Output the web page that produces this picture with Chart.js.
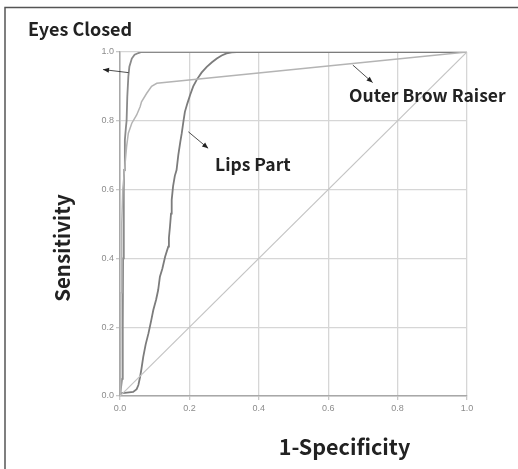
<!DOCTYPE html>
<html><head><meta charset="utf-8">
<script src="https://cdn.jsdelivr.net/npm/chart.js@4/dist/chart.umd.min.js"></script>
<style>html,body{margin:0;padding:0;background:#fff}</style>
</head><body>
<canvas id="c" width="518" height="469" style="display:block;width:518px;height:469px"></canvas>
<script>
// ---- data ----
const tickValues = [0, 0.2, 0.4, 0.6, 0.8, 1.0];
const tickLabels = ['0.0', '0.2', '0.4', '0.6', '0.8', '1.0'];

const eyesClosedX = [0, 0.006, 0.008, 0.009, 0.011, 0.012, 0.014, 0.017, 0.019, 0.021, 0.024, 0.027, 0.034, 0.042, 0.053, 0.062, 1];
const eyesClosedY = [0, 0.05, 0.2, 0.4, 0.6, 0.657, 0.744, 0.78, 0.80, 0.87, 0.928, 0.957, 0.981, 0.992, 0.997, 1.0, 1.0];

const browRaiserX = [0, 0.002, 0.003, 0.005, 0.008, 0.014, 0.019, 0.024, 0.034, 0.048, 0.058, 0.062, 0.077, 0.091, 0.106, 1];
const browRaiserY = [0, 0.05, 0.3, 0.5, 0.6, 0.667, 0.725, 0.764, 0.793, 0.817, 0.841, 0.855, 0.88, 0.90, 0.909, 1.0];

const lipsPartX = [0, 0.002, 0.02, 0.038, 0.048, 0.053, 0.058, 0.062, 0.067, 0.074, 0.082, 0.09, 0.096, 0.104, 0.11, 0.115, 0.122, 0.13, 0.139, 0.141, 0.144, 0.147, 0.149, 0.153, 0.158, 0.163, 0.168, 0.174, 0.178, 0.183, 0.187, 0.194, 0.202, 0.211, 0.221, 0.235, 0.25, 0.265, 0.279, 0.293, 0.307, 0.322, 0.336, 1];
const lipsPartY = [0, 0.008, 0.01, 0.012, 0.02, 0.032, 0.056, 0.08, 0.114, 0.15, 0.182, 0.22, 0.25, 0.28, 0.308, 0.347, 0.37, 0.405, 0.434, 0.46, 0.492, 0.53, 0.57, 0.61, 0.64, 0.657, 0.70, 0.74, 0.764, 0.80, 0.826, 0.85, 0.875, 0.90, 0.919, 0.94, 0.957, 0.97, 0.981, 0.99, 0.996, 0.999, 1.0, 1.0];

const refLineX = [0, 1];
const refLineY = [0, 1];

const seriesNames = ['Eyes Closed', 'Lips Part', 'Outer Brow Raiser'];
const axisTitleX = '1-Specificity';
const axisTitleY = 'Sensitivity';

const pts = (xs, ys) => xs.map((x, i) => ({x, y: ys[i]}));

const BOLD = '"Noto Sans CJK JP", "Noto Sans", sans-serif';

function arrow(ctx, x1, y1, x2, y2) {
  ctx.save();
  ctx.strokeStyle = '#222'; ctx.fillStyle = '#222'; ctx.lineWidth = 0.8;
  ctx.beginPath(); ctx.moveTo(x1, y1); ctx.lineTo(x2, y2); ctx.stroke();
  const a = Math.atan2(y2 - y1, x2 - x1), L = 6, W = 2.5;
  ctx.beginPath();
  ctx.moveTo(x2, y2);
  ctx.lineTo(x2 - L * Math.cos(a) + W * Math.sin(a), y2 - L * Math.sin(a) - W * Math.cos(a));
  ctx.lineTo(x2 - L * Math.cos(a) - W * Math.sin(a), y2 - L * Math.sin(a) + W * Math.cos(a));
  ctx.closePath(); ctx.fill();
  ctx.restore();
}

const decor = {
  id: 'decor',
  beforeDraw(chart) {
    const ctx = chart.ctx;
    ctx.save();
    ctx.fillStyle = '#fff'; ctx.fillRect(0, 0, chart.width, chart.height);
    ctx.strokeStyle = '#555'; ctx.lineWidth = 1.5;
    ctx.beginPath(); ctx.moveTo(5, chart.height); ctx.lineTo(5, 7.5); ctx.lineTo(chart.width, 7.5); ctx.stroke();
    ctx.restore();
  },
  afterDraw(chart) {
    const ctx = chart.ctx, xs = chart.scales.x, ys = chart.scales.y, ca = chart.chartArea;
    const P = (x, y) => [xs.getPixelForValue(x), ys.getPixelForValue(y)];
    ctx.save();
    ctx.fillStyle = '#222';
    ctx.textBaseline = 'middle';
    // heading
    ctx.font = 'bold 18px ' + BOLD; ctx.textAlign = 'left';
    ctx.fillText(seriesNames[0], 28, 29);
    // annotations
    ctx.font = 'bold 17.5px ' + BOLD;
    let [tx, ty] = P(0.274, 0.672); ctx.fillText(seriesNames[1], tx, ty);
    [tx, ty] = P(0.66, 0.873); ctx.fillText(seriesNames[2], tx, ty);
    // axis titles
    ctx.font = 'bold 21.5px ' + BOLD; ctx.textAlign = 'center';
    ctx.fillText(axisTitleX, xs.getPixelForValue(0.647), ca.bottom + 51);
    ctx.font = 'bold 20.5px ' + BOLD;
    ctx.save();
    ctx.translate(62, ys.getPixelForValue(0.43));
    ctx.rotate(-Math.PI / 2);
    ctx.fillText(axisTitleY, 0, 0);
    ctx.restore();
    // arrows
    let a = P(0.0245, 0.94), b = P(-0.049, 0.949); arrow(ctx, a[0], a[1], b[0], b[1]);
    a = P(0.197, 0.768); b = P(0.254, 0.72); arrow(ctx, a[0], a[1], b[0], b[1]);
    a = P(0.671, 0.962); b = P(0.728, 0.911); arrow(ctx, a[0], a[1], b[0], b[1]);
    ctx.restore();
  }
};

const tickFont = {family: '"Liberation Sans", Arial, sans-serif', size: 9};

new Chart(document.getElementById('c'), {
  type: 'scatter',
  data: {
    datasets: [
      {label: 'Reference', data: pts(refLineX, refLineY), borderColor: '#c4c4c4', borderWidth: 1.2},
      {label: seriesNames[2], data: pts(browRaiserX, browRaiserY), borderColor: '#b4b4b4', borderWidth: 1.5},
      {label: seriesNames[1], data: pts(lipsPartX, lipsPartY), borderColor: '#7c7c7c', borderWidth: 1.8},
      {label: seriesNames[0], data: pts(eyesClosedX, eyesClosedY), borderColor: '#8a8a8a', borderWidth: 1.8}
    ].map(d => Object.assign(d, {showLine: true, pointRadius: 0, pointHoverRadius: 0, tension: 0, fill: false}))
  },
  options: {
    responsive: false,
    animation: false,
    events: [],
    layout: {padding: {left: 0, top: 52, right: 51, bottom: 0}},
    plugins: {legend: {display: false}, tooltip: {enabled: false}, title: {display: false}},
    scales: {
      x: {
        type: 'linear', min: 0, max: 1,
        afterBuildTicks: s => { s.ticks = tickValues.map(v => ({value: v})); },
        afterFit: s => { s.height = 73; },
        ticks: {font: tickFont, color: '#8c8c8c', padding: 3, maxRotation: 0, callback: (v, i) => tickLabels[i]},
        grid: {color: '#d6d6d6', lineWidth: 1.3, tickLength: 4, tickColor: '#c8c8c8'},
        border: {color: '#a8a8a8', width: 1.5},
        title: {display: false}
      },
      y: {
        type: 'linear', min: 0, max: 1,
        afterBuildTicks: s => { s.ticks = tickValues.map(v => ({value: v})); },
        afterFit: s => { s.width = 120; },
        ticks: {font: tickFont, color: '#8c8c8c', padding: 2, callback: (v, i) => tickLabels[i]},
        grid: {color: '#d6d6d6', lineWidth: 1.3, tickLength: 4, tickColor: '#c8c8c8'},
        border: {color: '#a8a8a8', width: 1.5},
        title: {display: false}
      }
    }
  },
  plugins: [decor]
});
</script>
</body></html>
